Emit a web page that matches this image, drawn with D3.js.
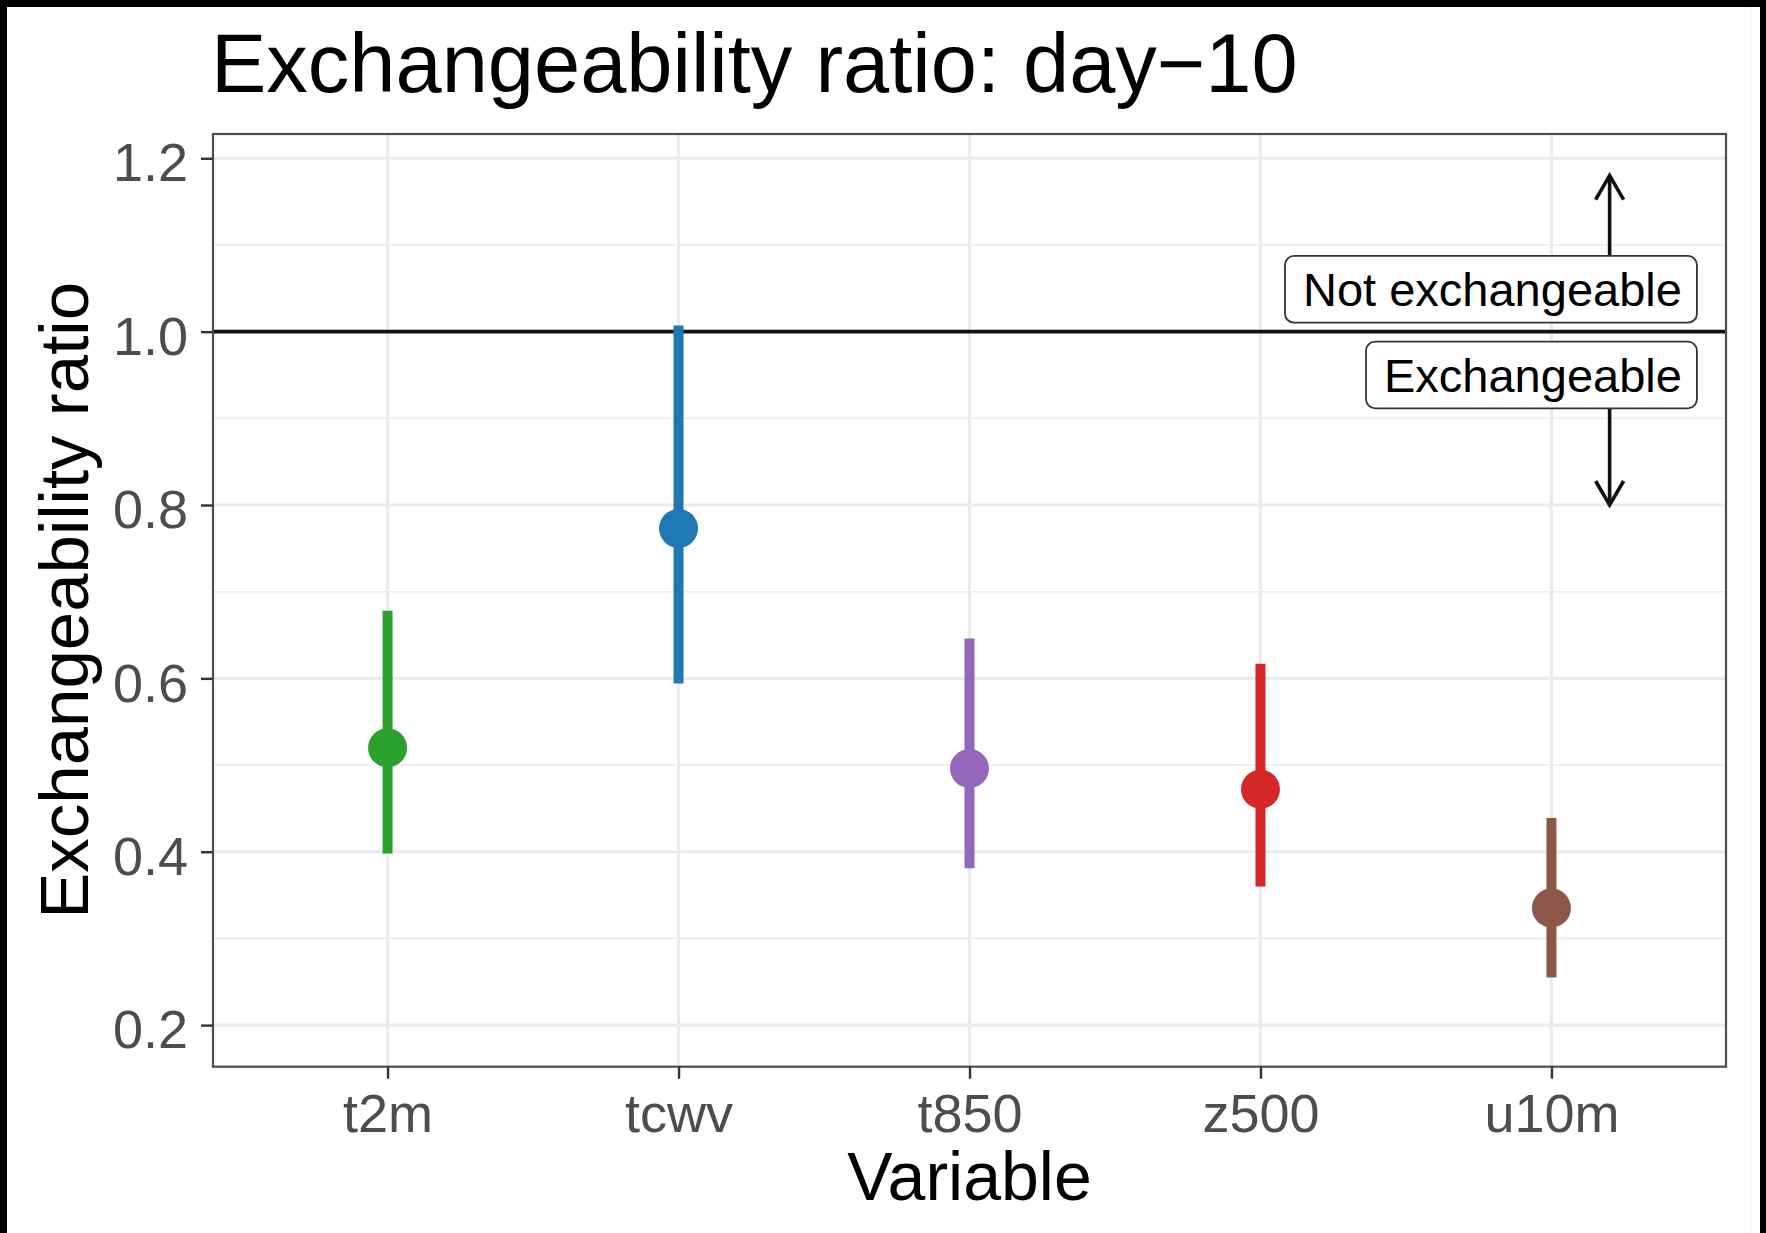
<!DOCTYPE html>
<html><head><meta charset="utf-8">
<script src="https://cdn.jsdelivr.net/npm/d3@7"></script>
<style>html,body{margin:0;padding:0;background:#000;} svg{display:block;}</style>
</head><body>
<svg id="chart" width="1766" height="1233"></svg>
<script>
// ---- data ----
const variables = ["t2m", "tcwv", "t850", "z500", "u10m"];
const ratio = [0.520, 0.773, 0.496, 0.472, 0.335];
const lower = [0.398, 0.594, 0.381, 0.360, 0.255];
const upper = [0.678, 1.007, 0.646, 0.617, 0.439];
const colors = ["#2ca02c", "#1f77b4", "#9467bd", "#d62728", "#8c564b"];
const yTicks = [0.2, 0.4, 0.6, 0.8, 1.0, 1.2];
const yMinor = [0.3, 0.5, 0.7, 0.9, 1.1];
const yDomain = [0.152, 1.228];
const threshold = 1.0;
const arrowEnds = [1.18, 0.80];
const regionLabels = ["Not exchangeable", "Exchangeable"];
const titleText = "Exchangeability ratio: day\u221210";
const xTitle = "Variable";
const yTitle = "Exchangeability ratio";

// ---- layout ----
const W = 1766, H = 1233;
const panel = {left: 213, top: 134, right: 1726, bottom: 1066.7};
const font = "'Liberation Sans', Arial, Helvetica, sans-serif";

const svg = d3.select("#chart");
svg.append("rect").attr("x", 7).attr("y", 7).attr("width", W - 7 - 6).attr("height", H - 7).attr("fill", "#fff");
svg.append("line").attr("x1", 1750.5).attr("x2", 1750.5).attr("y1", 7).attr("y2", H).attr("stroke", "#f2f2f2").attr("stroke-width", 1);

const x = d3.scalePoint().domain(variables).range([panel.left, panel.right]).padding(0.6);
const y = d3.scaleLinear().domain(yDomain).range([panel.bottom, panel.top]);
const step = x.step();

const g = svg.append("g");

// grid
g.selectAll(".minor").data(yMinor).join("line")
  .attr("x1", panel.left).attr("x2", panel.right)
  .attr("y1", d => y(d)).attr("y2", d => y(d))
  .attr("stroke", "#ebebeb").attr("stroke-width", 1.6);
g.selectAll(".major").data(yTicks).join("line")
  .attr("x1", panel.left).attr("x2", panel.right)
  .attr("y1", d => y(d)).attr("y2", d => y(d))
  .attr("stroke", "#ebebeb").attr("stroke-width", 3.2);
g.selectAll(".vmajor").data(variables).join("line")
  .attr("x1", d => x(d)).attr("x2", d => x(d))
  .attr("y1", panel.top).attr("y2", panel.bottom)
  .attr("stroke", "#ebebeb").attr("stroke-width", 3.2);

// threshold line
g.append("line")
  .attr("x1", panel.left).attr("x2", panel.right)
  .attr("y1", y(threshold)).attr("y2", y(threshold))
  .attr("stroke", "#111").attr("stroke-width", 3.8);

// region labels (boxes) and arrows
const ax = x(variables[variables.length - 1]) + 0.2 * step;
const xr = x(variables[variables.length - 1]) + 0.5 * step;
const boxH = 66.7;
const lblFont = 47;

function arrow(yStartPx, yEnd) {
  const tip = y(yEnd);
  const dir = tip < yStartPx ? 1 : -1; // wings go back toward start
  const len = 24, half = 14;
  g.append("line").attr("x1", ax).attr("x2", ax).attr("y1", yStartPx).attr("y2", tip)
    .attr("stroke", "#111").attr("stroke-width", 3.6);
  g.append("path")
    .attr("d", `M${ax - half},${tip + dir * len}L${ax},${tip}L${ax + half},${tip + dir * len}`)
    .attr("fill", "none").attr("stroke", "#111").attr("stroke-width", 3.6)
    .attr("stroke-linejoin", "miter").attr("stroke-linecap", "butt");
}

regionLabels.forEach((txt, i) => {
  const top = i === 0 ? y(threshold) - 9 - boxH : y(threshold) + 10;
  arrow(i === 0 ? top : top + boxH, arrowEnds[i]);
  const lg = g.append("g");
  const rect = lg.append("rect");
  const t = lg.append("text")
    .attr("x", xr - 15).attr("y", top + 50.5)
    .attr("text-anchor", "end")
    .attr("font-family", font).attr("font-size", lblFont).attr("fill", "#000")
    .text(txt);
  const w = t.node().getComputedTextLength();
  rect.attr("x", xr - 15 - w - 18).attr("y", top)
    .attr("width", w + 33).attr("height", boxH)
    .attr("rx", 9).attr("ry", 9)
    .attr("fill", "#fff").attr("stroke", "#333").attr("stroke-width", 1.8);
});

// error bars and points
const idx = d3.range(variables.length);
g.selectAll(".err").data(idx).join("line")
  .attr("x1", i => x(variables[i])).attr("x2", i => x(variables[i]))
  .attr("y1", i => y(lower[i])).attr("y2", i => y(upper[i]))
  .attr("stroke", i => colors[i]).attr("stroke-width", 10);
g.selectAll(".pt").data(idx).join("circle")
  .attr("cx", i => x(variables[i])).attr("cy", i => y(ratio[i]))
  .attr("r", 19.5).attr("fill", i => colors[i]);

// panel border
svg.append("rect")
  .attr("x", panel.left).attr("y", panel.top)
  .attr("width", panel.right - panel.left).attr("height", panel.bottom - panel.top)
  .attr("fill", "none").attr("stroke", "#4d4d4d").attr("stroke-width", 2.2);

// axes
const yAxis = svg.append("g").attr("transform", `translate(${panel.left},0)`)
  .call(d3.axisLeft(y).tickValues(yTicks).tickFormat(d3.format(".1f")).tickSize(12).tickPadding(13));
const xAxis = svg.append("g").attr("transform", `translate(0,${panel.bottom})`)
  .call(d3.axisBottom(x).tickSize(12).tickPadding(15));
[yAxis, xAxis].forEach(a => {
  a.select(".domain").remove();
  a.selectAll(".tick line").attr("stroke", "#333").attr("stroke-width", 2.4);
  a.selectAll(".tick text").attr("font-family", font).attr("font-size", 54).attr("fill", "#4d4d4d");
});
yAxis.selectAll(".tick text").attr("dy", "0.42em");

// titles
svg.append("text").attr("x", 211).attr("y", 91.7)
  .attr("font-family", font).attr("font-size", 83).attr("fill", "#000")
  .text(titleText);
svg.append("text").attr("x", (panel.left + panel.right) / 2).attr("y", 1200)
  .attr("text-anchor", "middle")
  .attr("font-family", font).attr("font-size", 68).attr("fill", "#000")
  .text(xTitle);
svg.append("text")
  .attr("transform", `translate(88,${(panel.top + panel.bottom) / 2}) rotate(-90)`)
  .attr("text-anchor", "middle")
  .attr("font-family", font).attr("font-size", 69).attr("fill", "#000")
  .text(yTitle);
</script>
</body></html>
